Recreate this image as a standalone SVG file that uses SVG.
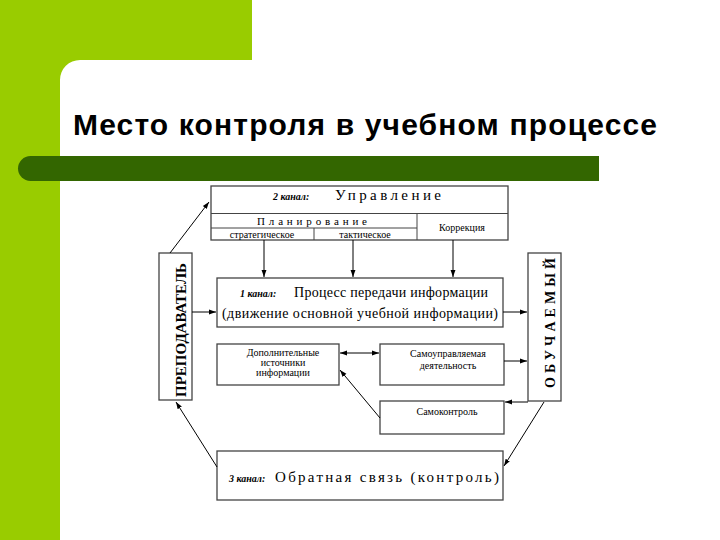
<svg xmlns="http://www.w3.org/2000/svg" width="720" height="540" viewBox="0 0 720 540">
<defs>
<marker id="ah" viewBox="0 0 10 10" refX="10" refY="5" markerWidth="7" markerHeight="7" orient="auto-start-reverse" markerUnits="userSpaceOnUse">
<path d="M0,1.5 L10,5 L0,8.5 Z" fill="#000"/>
</marker>
<style>
.box{fill:#fff;stroke:#444;stroke-width:1.3}
.ln{fill:none;stroke:#444;stroke-width:1}
.con{fill:none;stroke:#000;stroke-width:1}
.t{font-family:"Liberation Serif","Times New Roman",serif;fill:#000}
.ch{font-family:"Liberation Serif","Times New Roman",serif;font-style:italic;font-weight:bold;font-size:10px;fill:#000}
.vt{font-family:"Liberation Serif","Times New Roman",serif;font-weight:bold;fill:#000}
</style>
</defs>
<rect x="0" y="0" width="720" height="540" fill="#fff"/>
<path d="M0,0 H252 V60 H80 A20,20 0 0 0 60,80 V540 H0 Z" fill="#99CC00"/>
<path d="M599,156 H30.5 A12.5,12.5 0 0 0 30.5,181 H599 Z" fill="#336600"/>
<text x="73" y="135" font-family="Liberation Sans, Arial, sans-serif" font-weight="bold" font-size="30" textLength="584" fill="#000">Место контроля в учебном процессе</text>

<g id="upravlenie">
<rect class="box" x="211" y="186" width="297" height="54"/>
<line class="ln" x1="211" y1="213.5" x2="508" y2="213.5"/>
<line class="ln" x1="211" y1="228" x2="417" y2="228"/>
<line class="ln" x1="417" y1="213.5" x2="417" y2="240"/>
<line class="ln" x1="314" y1="228" x2="314" y2="240"/>
<text class="ch" x="273" y="200">2 канал:</text>
<text class="t" x="335" y="200" font-size="15" textLength="106" lengthAdjust="spacing">Управление</text>
<text class="t" x="257" y="225" font-size="11" textLength="110" lengthAdjust="spacing">Планирование</text>
<text class="t" x="262" y="238" font-size="10" text-anchor="middle">стратегическое</text>
<text class="t" x="365" y="238" font-size="10" text-anchor="middle">тактическое</text>
<text class="t" x="462" y="231" font-size="10" text-anchor="middle">Коррекция</text>
</g>

<g id="prepodavatel">
<rect class="box" x="159" y="253" width="33" height="147"/>
<text class="vt" transform="translate(186,330) rotate(-90)" font-size="15" text-anchor="middle" textLength="134" lengthAdjust="spacing">ПРЕПОДАВАТЕЛЬ</text>
</g>

<g id="obuchaemyi">
<rect class="box" x="528" y="253" width="33" height="148"/>
<text class="vt" transform="translate(555,323) rotate(-90)" font-size="14" text-anchor="middle" textLength="130" lengthAdjust="spacing">ОБУЧАЕМЫЙ</text>
</g>

<g id="kanal1">
<rect class="box" x="217" y="278" width="286" height="49"/>
<text class="ch" x="240" y="297">1 канал:</text>
<text class="t" x="294" y="297" font-size="14" textLength="194">Процесс передачи информации</text>
<text class="t" x="222" y="318" font-size="14" textLength="276">(движение основной учебной информации)</text>
</g>

<g id="dop">
<rect class="box" x="217" y="344" width="122" height="41"/>
<text class="t" x="283" y="356" font-size="10" text-anchor="middle">Дополнительные</text>
<text class="t" x="283" y="366" font-size="10" text-anchor="middle">источники</text>
<text class="t" x="283" y="376" font-size="10" text-anchor="middle">информации</text>
</g>

<g id="samoupr">
<rect class="box" x="380" y="344" width="124" height="41"/>
<text class="t" x="448" y="357" font-size="10" text-anchor="middle">Самоуправляемая</text>
<text class="t" x="448" y="369" font-size="10" text-anchor="middle">деятельность</text>
</g>

<g id="samokontrol">
<rect class="box" x="380" y="401" width="124" height="33"/>
<text class="t" x="447" y="415" font-size="10" text-anchor="middle">Самоконтроль</text>
</g>

<g id="kanal3">
<rect class="box" x="217" y="451" width="286" height="49"/>
<text class="ch" x="229" y="482">3 канал:</text>
<text class="t" x="275" y="482" font-size="15" textLength="224" lengthAdjust="spacing">Обратная связь (контроль)</text>
</g>

<g id="connectors">
<line class="con" x1="264" y1="240" x2="264" y2="277" stroke-width="1.6" marker-end="url(#ah)"/>
<line class="con" x1="353" y1="240" x2="353" y2="277" marker-end="url(#ah)"/>
<line class="con" x1="453" y1="240" x2="453" y2="277" marker-end="url(#ah)"/>
<line class="con" x1="192" y1="312" x2="216" y2="312" marker-end="url(#ah)"/>
<line class="con" x1="503" y1="312" x2="527" y2="312" marker-end="url(#ah)"/>
<line class="con" x1="340" y1="353" x2="379" y2="353" marker-start="url(#ah)" marker-end="url(#ah)"/>
<line class="con" x1="504" y1="361" x2="527" y2="361" marker-end="url(#ah)"/>
<line class="con" x1="528" y1="402" x2="505" y2="402" marker-end="url(#ah)"/>
<line class="con" x1="380" y1="418" x2="340" y2="370" marker-end="url(#ah)"/>
<line class="con" x1="170" y1="253" x2="209" y2="202" marker-end="url(#ah)"/>
<line class="con" x1="217" y1="467" x2="176" y2="402" marker-end="url(#ah)"/>
<line class="con" x1="544" y1="402" x2="504" y2="466" marker-end="url(#ah)"/>
</g>
</svg>
